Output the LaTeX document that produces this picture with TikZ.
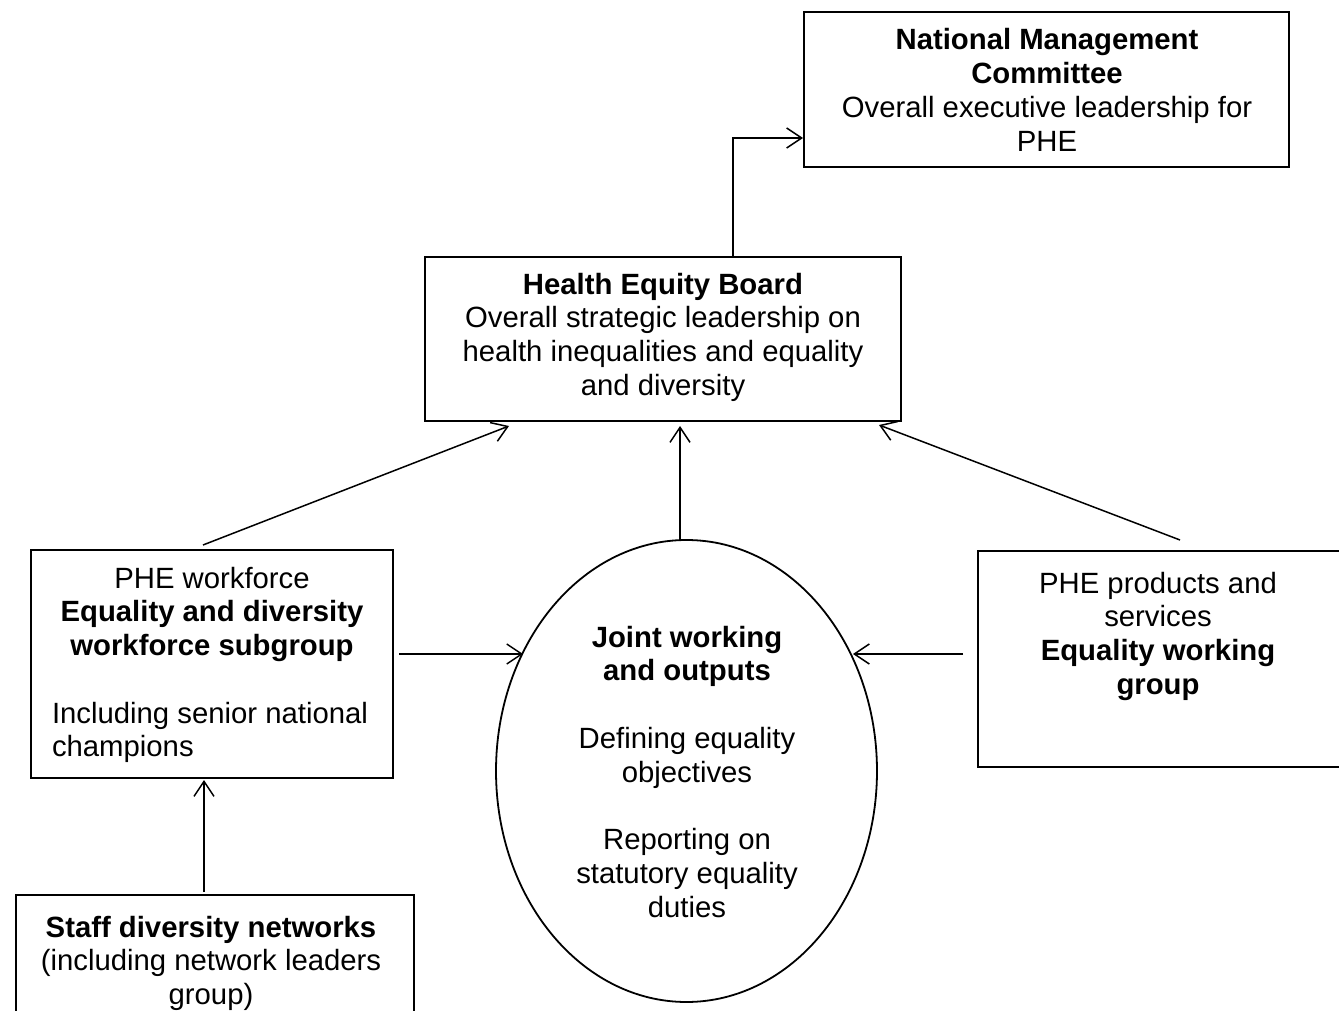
\documentclass[tikz,border=0pt]{standalone}
\usepackage{fontspec}
\setmainfont{Liberation Sans}
\usetikzlibrary{shapes.geometric,arrows.meta}
\newcommand{\topstrut}{\rule{0pt}{24pt}}
\tikzset{
  box/.style={draw=black, line width=1.8pt, inner sep=0pt, outer sep=0pt, anchor=north west},
  oval/.style={draw=black, ellipse, line width=1.8pt, inner sep=0pt, outer sep=0pt},
  txt/.style={inner sep=0pt, outer sep=0pt, anchor=north, align=center, font=\fontsize{29.3pt}{33.8pt}\selectfont},
  ltxt/.style={txt, anchor=north west, align=left},
  arr/.style={-{Straight Barb[length=15pt,width=20pt,line width=1.5pt]}, line width=1.5pt, black}
}
\begin{document}
\begin{tikzpicture}[x=1pt,y=-1pt]
\useasboundingbox (0,0) rectangle (1339,1011);
\clip (0,0) rectangle (1339,1011);

% boxes
\node[box, minimum width=485pt, minimum height=155pt] (nmc) at (804,12) {};
\node[box, minimum width=476pt, minimum height=164pt] (heb) at (425,257) {};
\node[box, minimum width=362pt, minimum height=228pt] (wf) at (31,550) {};
\node[box, minimum width=367pt, minimum height=216pt] (rb) at (978,551) {};
\node[box, minimum width=398pt, minimum height=140pt] (st) at (16,895) {};
\node[oval, minimum width=381pt, minimum height=462pt] (el) at (686.5,771) {};

% texts
\node[txt] (nmct) at (1047,26) {\topstrut\textbf{National Management}\\\textbf{Committee}\\Overall executive leadership for\\PHE};
\node[txt] (hebt) at (663,270) {\topstrut\textbf{Health Equity Board}\\Overall strategic leadership on\\health inequalities and equality\\and diversity};
\node[txt] (wft) at (212,564) {\topstrut PHE workforce\\\textbf{Equality and diversity}\\\textbf{workforce subgroup}};
\node[ltxt] (wft2) at (52,699) {\topstrut Including senior national\\champions};
\node[txt] (elt) at (687,623) {\topstrut\textbf{Joint working}\\\textbf{and outputs}\\~\\Defining equality\\objectives\\~\\Reporting on\\statutory equality\\duties};
\node[txt] (rbt) at (1158,569) {\topstrut PHE products and\\services\\\textbf{Equality working}\\\textbf{group}};
\node[txt] (stt) at (211,913) {\topstrut\textbf{Staff diversity networks}\\(including network leaders\\group)};

% connector end points
\coordinate (ls) at ([xshift=6pt,yshift=10pt]wf.east);
\coordinate (rs) at ([xshift=-15pt,yshift=5pt]rb.west);

% connectors
\draw[arr] ([xshift=70pt]heb.north) |- ([yshift=-48.5pt,xshift=-1pt]nmc.west);
\draw[arr] ([xshift=-9pt,yshift=5pt]wf.north) -- ([xshift=-154pt,yshift=-5pt]heb.south);
\draw[arr] ([xshift=-6.5pt]el.north) -- ([xshift=17pt,yshift=-5pt]heb.south);
\draw[arr] ([xshift=18.5pt,yshift=11pt]rb.north) -- ([xshift=216pt,yshift=-4pt]heb.south);
\draw[arr] (ls) -- (ls -| el.144.6);
\draw[arr] (rs) -- (rs -| el.34.9);
\draw[arr] ([xshift=-11pt,yshift=3pt]st.north) -- ([xshift=-8pt,yshift=-2pt]wf.south);
\end{tikzpicture}
\end{document}
